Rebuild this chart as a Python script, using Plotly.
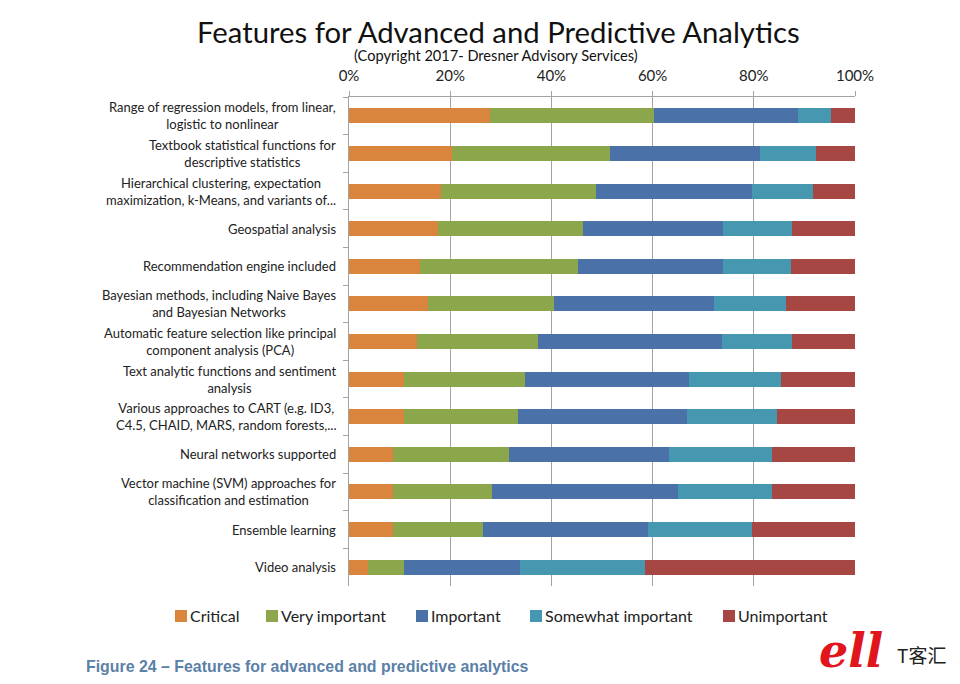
import plotly.graph_objects as go

categories = [
    "Range of regression models, from linear,<br>logistic to nonlinear",
    "Textbook statistical functions for<br>descriptive statistics",
    "Hierarchical clustering, expectation<br>maximization, k-Means, and variants of...",
    "Geospatial analysis",
    "Recommendation engine included",
    "Bayesian methods, including Naive Bayes<br>and Bayesian Networks",
    "Automatic feature selection like principal<br>component analysis (PCA)",
    "Text analytic functions and sentiment<br>analysis",
    "Various approaches to CART (e.g. ID3,<br>C4.5, CHAID, MARS, random forests,...",
    "Neural networks supported",
    "Vector machine (SVM) approaches for<br>classification and estimation",
    "Ensemble learning",
    "Video analysis",
]
critical = [27.9, 20.4, 18.2, 17.6, 14.1, 15.7, 13.5, 10.8, 10.9, 8.7, 8.7, 8.7, 3.7]
very_important = [32.3, 31.2, 30.6, 28.7, 31.1, 24.9, 23.8, 24.0, 22.5, 23.0, 19.5, 17.7, 7.2]
important = [28.6, 29.7, 30.9, 27.6, 28.7, 31.6, 36.4, 32.3, 33.4, 31.6, 36.8, 32.6, 22.8]
somewhat_important = [6.4, 10.9, 11.9, 13.7, 13.5, 14.1, 13.9, 18.3, 17.7, 20.3, 18.5, 20.6, 24.7]
unimportant = [4.8, 7.8, 8.4, 12.4, 12.6, 13.7, 12.4, 14.6, 15.5, 16.4, 16.5, 20.4, 41.6]

series_names = ["Critical", "Very important", "Important", "Somewhat important", "Unimportant"]
series_values = [critical, very_important, important, somewhat_important, unimportant]
colors = ["#D9853E", "#8BA64B", "#4A72A8", "#4598B0", "#A64743"]
x_ticks = [0, 20, 40, 60, 80, 100]

# Plot area in page pixels; the page has an 8 px body margin around the figure
OFF = 8
L, R, T, B = 349, 855, 97, 586
W, H = 960 - OFF, 684 - OFF
def px(x): return (x - L) / (R - L)
def py(y): return (B - y) / (B - T)

FONT = "Lato"
fig = go.Figure()
for name, vals, c in zip(series_names, series_values, colors):
    fig.add_trace(go.Bar(y=categories, x=vals, name=name, orientation="h",
                         marker=dict(color=c, line_width=0), width=0.4, showlegend=False))

ann = []
for cat in categories:
    ann.append(dict(text=cat, xref="paper", yref="y", x=px(338), y=cat, xanchor="right",
                    yanchor="middle", align="center", showarrow=False,
                    font=dict(family=FONT, size=13, color="#222222")))
ann.append(dict(text="Features for Advanced and Predictive Analytics", xref="paper", yref="paper",
                x=px(498.5), y=py(32), xanchor="center", yanchor="middle", showarrow=False,
                font=dict(family=FONT, size=29.3, color="#111111")))
ann.append(dict(text="(Copyright 2017- Dresner Advisory Services)", xref="paper", yref="paper",
                x=px(495.5), y=py(55.5), xanchor="center", yanchor="middle", showarrow=False,
                font=dict(family=FONT, size=14.6, color="#111111")))
ann.append(dict(text="<b>Figure 24 – Features for advanced and predictive analytics</b>", xref="paper", yref="paper",
                x=px(83.5), y=py(666), xanchor="left", yanchor="middle", showarrow=False,
                font=dict(family="Liberation Sans", size=15.9, color="#5B80A8")))
ann.append(dict(text="<b><i>ell</i></b>", xref="paper", yref="paper",
                x=px(851), y=py(651), xanchor="center", yanchor="middle", showarrow=False,
                font=dict(family="DejaVu Serif", size=46, color="#E0161C")))
ann.append(dict(text="T客汇", xref="paper", yref="paper",
                x=px(921), y=py(654), xanchor="center", yanchor="middle", showarrow=False,
                font=dict(family="Noto Sans CJK SC", size=19, color="#222222")))

shapes = []
legend_x = [175, 266, 416, 530, 723]
for name, c, lx in zip(series_names, colors, legend_x):
    shapes.append(dict(type="rect", xref="paper", yref="paper", x0=px(lx), x1=px(lx + 12),
                       y0=py(622), y1=py(610), fillcolor=c, line_width=0))
    ann.append(dict(text=name, xref="paper", yref="paper", x=px(lx + 13), y=py(615), xanchor="left",
                    yanchor="middle", showarrow=False, font=dict(family=FONT, size=16, color="#222222")))

fig.update_layout(
    width=W, height=H, autosize=False, barmode="stack", bargap=0.6,
    margin=dict(l=L - OFF, r=W - (R - OFF), t=T - OFF, b=H - (B - OFF)),
    paper_bgcolor="white", plot_bgcolor="white",
    annotations=ann, shapes=shapes,
    xaxis=dict(side="top", range=[0, 100], tickvals=x_ticks, ticktext=[f"{v}%" for v in x_ticks],
               showgrid=True, gridcolor="#A3A3A3", gridwidth=1, zeroline=False,
               ticks="outside", ticklen=5, tickcolor="#A3A3A3", ticklabelstandoff=4,
               showline=True, linecolor="#A3A3A3",
               tickfont=dict(family=FONT, size=15, color="#222222")),
    yaxis=dict(type="category", autorange="reversed", categoryorder="array", categoryarray=categories,
               showticklabels=False, tickson="boundaries", ticks="outside", ticklen=5,
               tickcolor="#A3A3A3", showline=True, linecolor="#A3A3A3", showgrid=False),
)
fig.write_html("out.html")
